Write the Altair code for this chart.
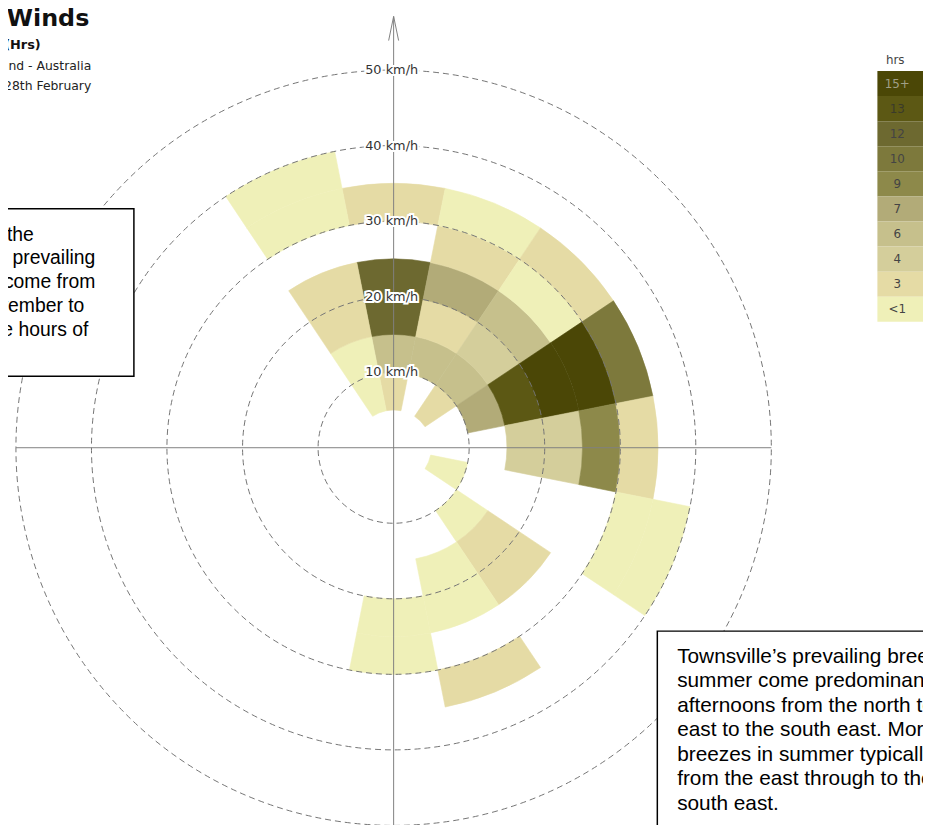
import math
import altair as alt
import pandas as pd

# ---------------- data ----------------
directions = ["N", "NNE", "NE", "ENE", "E", "ESE", "SE", "SSE",
              "S", "SSW", "SW", "WSW", "W", "WNW", "NW", "NNW"]

cell_dir = ["N", "N", "N", "N", "N",
            "NNE", "NNE", "NNE", "NNE", "NNE",
            "NE", "NE", "NE", "NE", "NE", "NE",
            "ENE", "ENE", "ENE", "ENE", "ENE",
            "E", "E", "E", "E",
            "ESE", "ESE", "ESE",
            "SE", "SE", "SE",
            "SSE", "SSE", "SSE",
            "S", "S",
            "NNW", "NNW", "NNW", "NNW", "NNW", "NNW"]
cell_lo = [5, 10, 15, 20, 30,
           10, 15, 20, 25, 30,
           5, 10, 15, 20, 25, 30,
           10, 15, 20, 25, 30,
           15, 20, 25, 30,
           5, 30, 35,
           10, 15, 20,
           15, 20, 30,
           20, 25,
           5, 10, 15, 20, 30, 35]
cell_hrs = ["3", "6", "12", "12", "3",
            "6", "3", "7", "3", "<1",
            "3", "6", "4", "6", "<1", "3",
            "7", "13", "15+", "15+", "10",
            "4", "4", "9", "3",
            "<1", "<1", "<1",
            "<1", "3", "3",
            "<1", "<1", "3",
            "<1", "<1",
            "<1", "<1", "3", "3", "<1", "<1"]
bin_width = 5

hrs_labels = ["15+", "13", "12", "10", "9", "7", "6", "4", "3", "<1"]
hrs_colors = ["#4b4706", "#5c5814", "#6d6930", "#7d793c", "#8d894a",
              "#b2ab78", "#c6c08c", "#d4ce9b", "#e5dba5", "#eff0b8"]

ring_speeds = [10, 20, 30, 40, 50]
ring_labels = ["10 km/h", "20 km/h", "30 km/h", "40 km/h", "50 km/h"]

title_lines = ["Summer Winds", "Frequency (Hrs)", "Queensland - Australia",
               "1st December to 28th February"]
left_note = ["During summer the", "Townsville's prevailing", "breezes come from",
             "November to", "in the hours of"]
right_note = ["Townsville\u2019s prevailing breezes in",
              "summer come predominantly in the",
              "afternoons from the north to north",
              "east to the south east. Morning",
              "breezes in summer typically come",
              "from the east through to the",
              "south east."]

# ---------------- layout ----------------
W, H = 923, 817
CX, CY = 389, 440
PX = 7.62  # pixels per km/h

x_scale = alt.Scale(domain=[-CX / PX, (W - CX) / PX], nice=False, zero=False)
y_scale = alt.Scale(domain=[(CY - H) / PX, CY / PX], nice=False, zero=False)
theta_scale = alt.Scale(domain=[0, 360], range=[0, 2 * math.pi])
r_scale = alt.Scale(type="linear", domain=[0, 50], range=[0, 50 * PX], zero=True)
color_scale = alt.Scale(domain=hrs_labels, range=hrs_colors)

step = 360 / len(directions)
idx = {d: i for i, d in enumerate(directions)}
cells = pd.DataFrame({"dir": cell_dir, "lo": cell_lo, "hrs": cell_hrs})
cells["t0"] = cells["dir"].map(idx) * step - step / 2
cells["t1"] = cells["t0"] + step
cells["hi"] = cells["lo"] + bin_width

cells_layer = alt.Chart(cells).mark_arc(strokeWidth=0.6).encode(
    theta=alt.Theta("t0:Q", scale=theta_scale, stack=False),
    theta2="t1:Q",
    radius=alt.Radius("lo:Q", scale=r_scale),
    radius2="hi:Q",
    color=alt.Color("hrs:N", scale=color_scale, legend=None),
    stroke=alt.Stroke("hrs:N", scale=color_scale, legend=None),
    x=alt.value(CX), y=alt.value(CY),
)

rings = pd.DataFrame({"speed": ring_speeds, "label": ring_labels})
rings["t0"] = 0
rings["t1"] = 360
ring_layer = alt.Chart(rings).mark_arc(
    fill="transparent", stroke="#737373", strokeWidth=1, strokeDash=[6, 4]
).encode(
    theta=alt.Theta("t0:Q", scale=theta_scale, stack=False),
    theta2="t1:Q",
    radius=alt.Radius("speed:Q", scale=r_scale),
    x=alt.value(CX), y=alt.value(CY),
)

rmax = ring_speeds[-1]
axis_df = pd.DataFrame({
    "x": [-rmax, 0, 0, 0],
    "y": [0, -60, 57.1, 57.1],
    "x2": [rmax, 0, -0.66, 0.66],
    "y2": [0, 57.1, 53.9, 53.9],
})
axis_layer = alt.Chart(axis_df).mark_rule(color="#808080", strokeWidth=1).encode(
    x=alt.X("x:Q", scale=x_scale, axis=None), x2="x2:Q",
    y=alt.Y("y:Q", scale=y_scale, axis=None), y2="y2:Q",
)

ring_text_base = alt.Chart(rings).encode(
    x=alt.value(CX - 2),
    y=alt.Y("speed:Q", scale=y_scale, axis=None),
    text="label:N",
)
ring_halo = ring_text_base.mark_text(
    font="DejaVu Sans", fontSize=13, stroke="white", strokeWidth=4,
    align="center", baseline="middle")
ring_text = ring_text_base.mark_text(
    font="DejaVu Sans", fontSize=13, color="#333333",
    align="center", baseline="middle")

legend_df = pd.DataFrame({"hrs": hrs_labels, "i": list(range(len(hrs_labels)))})
legend_df["i1"] = legend_df["i"] + 1
legend_df["im"] = legend_df["i"] + 0.5
legend_df["tc"] = ["#a09f86", "#3a3a2a"] + ["#444444"] * (len(hrs_labels) - 2)
leg_y = alt.Scale(domain=[0, len(hrs_labels)], range=[60, 313], nice=False, zero=False)
leg_rect = alt.Chart(legend_df).mark_rect().encode(
    x=alt.value(877), x2=alt.value(W + 10),
    y=alt.Y("i:Q", scale=leg_y, axis=None), y2="i1:Q",
    color=alt.Color("hrs:N", scale=color_scale, legend=None),
)
leg_text = alt.Chart(legend_df).mark_text(
    font="DejaVu Sans", fontSize=12, align="center", baseline="middle"
).encode(
    x=alt.value(897),
    y=alt.Y("im:Q", scale=leg_y, axis=None),
    text="hrs:N",
    color=alt.Color("tc:N", scale=None),
)
one = pd.DataFrame({"a": [0]})
leg_title = alt.Chart(one).mark_text(
    text="hrs", font="DejaVu Sans", fontSize=12, color="#444444",
    align="center", baseline="middle"
).encode(x=alt.value(895), y=alt.value(49))

t1 = alt.Chart(one).mark_text(text=title_lines[0], font="DejaVu Sans", fontWeight="bold",
                              fontSize=24, color="#111111", align="right",
                              baseline="alphabetic").encode(x=alt.value(82), y=alt.value(15))
t2 = alt.Chart(one).mark_text(text=title_lines[1], font="DejaVu Sans", fontWeight="bold",
                              fontSize=13, color="#111111", align="right",
                              baseline="alphabetic").encode(x=alt.value(33), y=alt.value(38))
t3 = alt.Chart(one).mark_text(text=title_lines[2], font="DejaVu Sans",
                              fontSize=12.5, color="#222222", align="right",
                              baseline="alphabetic").encode(x=alt.value(84), y=alt.value(59))
t4 = alt.Chart(one).mark_text(text=title_lines[3], font="DejaVu Sans",
                              fontSize=12.5, color="#222222", align="right",
                              baseline="alphabetic").encode(x=alt.value(84), y=alt.value(79))

left_box = alt.Chart(one).mark_rect(fill="white", stroke="black", strokeWidth=1.5).encode(
    x=alt.value(-20), x2=alt.value(127), y=alt.value(199), y2=alt.value(368))
left_ends = [26, 88, 88, 77, 81]
left_texts = [
    alt.Chart(one).mark_text(text=line, font="Liberation Sans", fontSize=19.5, color="black",
                             align="right", baseline="alphabetic").encode(
        x=alt.value(xe), y=alt.value(231 + 24 * k))
    for k, (line, xe) in enumerate(zip(left_note, left_ends))
]

right_box = alt.Chart(one).mark_rect(fill="white", stroke="black", strokeWidth=1.5).encode(
    x=alt.value(655), x2=alt.value(W + 20), y=alt.value(625), y2=alt.value(H + 20))
right_text = alt.Chart(one).mark_text(
    text=right_note, font="Liberation Sans", fontSize=21, lineHeight=24.7,
    color="black", align="left", baseline="alphabetic"
).encode(x=alt.value(675), y=alt.value(657))

chart = alt.layer(
    cells_layer, ring_layer, axis_layer, ring_halo, ring_text,
    leg_rect, leg_text, leg_title, t1, t2, t3, t4,
    left_box, *left_texts, right_box, right_text,
).resolve_scale(
    x="independent", y="independent"
).properties(
    width=W, height=H,
    autosize=alt.AutoSizeParams(type="none"),
    padding=0,
    background="white",
).configure_view(stroke=None)

chart.save("out.html", embed_options={"renderer": "svg", "actions": False})
